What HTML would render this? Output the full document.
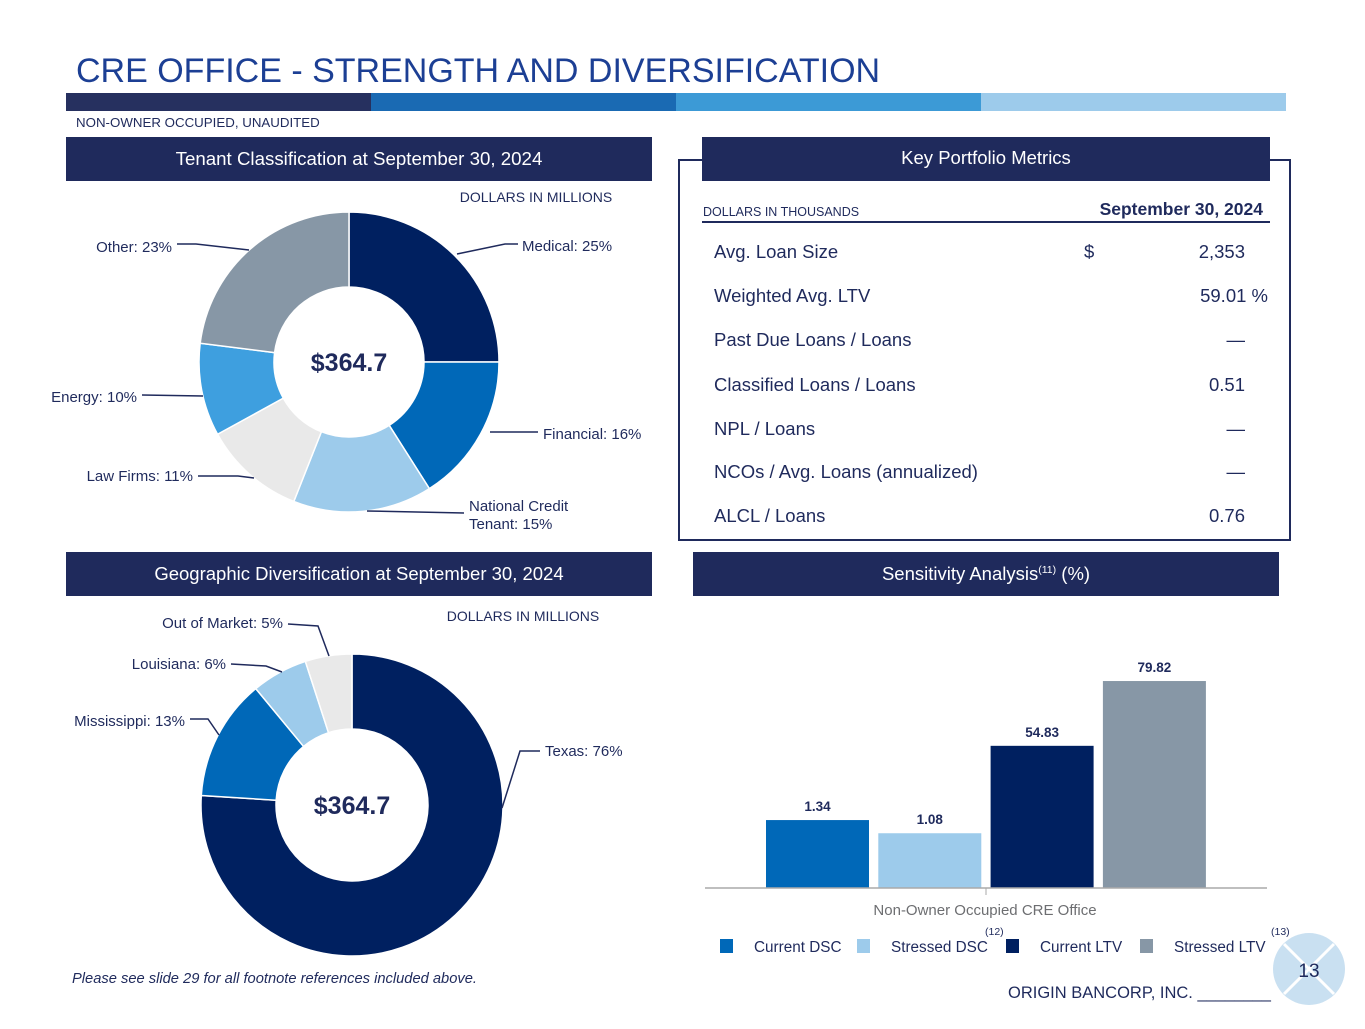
<!DOCTYPE html>
<html><head><meta charset="utf-8"><style>
body{margin:0;background:#fff;width:1365px;height:1024px;overflow:hidden;font-family:"Liberation Sans",Arial,sans-serif}
svg text{font-family:"Liberation Sans",Arial,sans-serif}
</style></head><body>
<svg id="s" width="1365" height="1024" viewBox="0 0 1365 1024" xmlns="http://www.w3.org/2000/svg">
<text x="76" y="82" font-size="34" fill="#1c3f94">CRE OFFICE - STRENGTH AND DIVERSIFICATION</text>
<g>
<rect x="66" y="93" width="305" height="18" fill="#26305f"/><rect x="371" y="93" width="305" height="18" fill="#1a6ab3"/><rect x="676" y="93" width="305" height="18" fill="#3c9ad6"/><rect x="981" y="93" width="305" height="18" fill="#9dcbeb"/></g>
<text x="76" y="127" font-size="13.3" fill="#1f2a5c">NON-OWNER OCCUPIED, UNAUDITED</text>

<rect x="66" y="137" width="586" height="44" fill="#1f2a5c"/>
<text x="359" y="165" font-size="18.7" fill="#fff" text-anchor="middle">Tenant Classification at September 30, 2024</text>
<text x="536" y="202" font-size="14" fill="#1f2a5c" text-anchor="middle">DOLLARS IN MILLIONS</text>

<rect x="679" y="160" width="611" height="380" fill="none" stroke="#1f2a5c" stroke-width="2"/>
<rect x="702" y="137" width="568" height="44" fill="#1f2a5c"/>
<text x="986" y="164" font-size="18.5" fill="#fff" text-anchor="middle">Key Portfolio Metrics</text>
<text x="703" y="216" font-size="12.5" fill="#1f2a5c">DOLLARS IN THOUSANDS</text>
<text x="1263" y="215" font-size="17.5" font-weight="bold" fill="#1f2a5c" text-anchor="end">September 30, 2024</text>
<line x1="702" y1="222" x2="1270" y2="222" stroke="#1f2a5c" stroke-width="2"/>
<g id="metrics" font-size="18.5" fill="#1f2a5c"></g>

<rect x="66" y="552" width="586" height="44" fill="#1f2a5c"/>
<text x="359" y="580" font-size="18.5" fill="#fff" text-anchor="middle">Geographic Diversification at September 30, 2024</text>
<text x="523" y="621" font-size="14" fill="#1f2a5c" text-anchor="middle">DOLLARS IN MILLIONS</text>

<rect x="693" y="552" width="586" height="44" fill="#1f2a5c"/>
<text x="986" y="580" font-size="18.5" fill="#fff" text-anchor="middle">Sensitivity Analysis<tspan font-size="10.5" dy="-7">(11)</tspan><tspan dy="7"> (%)</tspan></text>

<g id="donut1"></g>
<g id="donut2"></g>
<g id="bars"></g>

<text x="72" y="983" font-size="14.7" font-style="italic" fill="#1f2a5c">Please see slide 29 for all footnote references included above.</text>
<text x="1008" y="998" font-size="16.5" fill="#1f2a5c">ORIGIN BANCORP, INC. ________</text>
<g>
<circle cx="1309" cy="969" r="36" fill="#c9e0f1"/>
<line x1="1284" y1="944" x2="1334" y2="994" stroke="#fff" stroke-width="3"/><line x1="1334" y1="944" x2="1284" y2="994" stroke="#fff" stroke-width="3"/>
<text x="1309" y="977" font-size="19" fill="#1f2a5c" text-anchor="middle">13</text></g>
</svg>
<script>
const NS="http://www.w3.org/2000/svg";
function mk(p,t,a,txt){const e=document.createElementNS(NS,t);for(const k in a)e.setAttribute(k,a[k]);if(txt!==undefined)e.textContent=txt;p.appendChild(e);return e;}

// Metrics
const metricLabels=["Avg. Loan Size","Weighted Avg. LTV","Past Due Loans / Loans","Classified Loans / Loans","NPL / Loans","NCOs / Avg. Loans (annualized)","ALCL / Loans"];
const metricValues=["2,353","59.01 %","—","0.51","—","—","0.76"];
const mg=document.getElementById('metrics');
const rowY=[258,302,346,391,435,478,522];
metricLabels.forEach((l,i)=>{
  const t=mk(mg,'text',{x:714,y:rowY[i]},l);
  
  
  const v=mk(mg,'text',{x:metricValues[i].includes('%')?1268:1245,y:rowY[i],'text-anchor':'end'},metricValues[i]);
  
  
});
mk(mg,'text',{x:1084,y:258},'$');

// Donuts
const tenantCats=["Medical: 25%","Financial: 16%","National Credit Tenant: 15%","Law Firms: 11%","Energy: 10%","Other: 23%"];
const tenantVals=[25,16,15,11,10,23];
const tenantColors=["#002060","#0068b8","#9dcbeb","#e9e9e9","#3e9fdf","#8797a6"];
const geoCats=["Texas: 76%","Mississippi: 13%","Louisiana: 6%","Out of Market: 5%"];
const geoVals=[76,13,6,5];
const geoColors=["#002060","#0068b8","#9dcbeb","#e9e9e9"];
function pt(cx,cy,r,a){return [cx+r*Math.sin(a),cy-r*Math.cos(a)];}
function donut(g,cx,cy,R,r,vals,cols){
  const tot=vals.reduce((a,b)=>a+b,0);let a0=0;
  vals.forEach((v,i)=>{const a1=a0+v/tot*2*Math.PI;const lg=(a1-a0)>Math.PI?1:0;
    const p1=pt(cx,cy,R,a0),p2=pt(cx,cy,R,a1),p3=pt(cx,cy,r,a1),p4=pt(cx,cy,r,a0);
    const p=mk(g,'path',{d:`M${p1}A${R},${R} 0 ${lg} 1 ${p2}L${p3}A${r},${r} 0 ${lg} 0 ${p4}Z`,fill:cols[i],stroke:'#fff','stroke-width':1.5});
    
    
    a0=a1;});
  mk(g,'text',{x:cx,y:cy+9,'font-size':25,'font-weight':'bold',fill:'#1f2a5c','text-anchor':'middle'},'$364.7');
}
const d1=document.getElementById('donut1');donut(d1,349,362,150,75,tenantVals,tenantColors);
const d2=document.getElementById('donut2');donut(d2,352,805,151,76,geoVals,geoColors);
function lab(g,txt,x,y,anchor,line){
  mk(g,'polyline',{points:line,fill:'none',stroke:'#1f2a5c','stroke-width':1.5});
  const lines=txt.split('\n');
  lines.forEach((l,i)=>{const t=mk(g,'text',{x:x,y:y+i*18,'font-size':15,fill:'#1f2a5c','text-anchor':anchor},l);
    
    });
}
lab(d1,tenantCats[0],522,251,'start',"457,254 505,244 518,244");
lab(d1,tenantCats[1],543,439,'start',"490,432 538,432");
lab(d1,"National Credit\nTenant: 15%",469,511,'start',"367,511 464,513");
lab(d1,tenantCats[3],193,481,'end',"254,478 238,476 198,476");
lab(d1,tenantCats[4],137,402,'end',"203,396 142,395");
lab(d1,tenantCats[5],172,252,'end',"249,250 196,244 177,244");
lab(d2,geoCats[0],545,756,'start',"502,808 520,751 540,751");
lab(d2,geoCats[1],185,726,'end',"219,735 208,719 190,719");
lab(d2,geoCats[2],226,669,'end',"282,672 266,666 231,664");
lab(d2,geoCats[3],283,628,'end',"329,656 318,626 288,624");

// Bar chart (DSC and LTV on separate scales)
const barSeries=["Current DSC","Stressed DSC","Current LTV","Stressed LTV"];
const barValues=[1.34,1.08,54.83,79.82];
const barColors=["#0068b8","#9dcbeb","#002060","#8797a6"];
const barAxis=["dsc","dsc","ltv","ltv"];
const baseY=888;
function yScale(v,ax){return ax==='dsc'?v*50.7:v*2.593;}
const bg=document.getElementById('bars');
const bx0=766,bw=103,gap=9.3;
barValues.forEach((v,i)=>{const h=yScale(v,barAxis[i]);const x=bx0+i*(bw+gap);
  const r=mk(bg,'rect',{x:x,y:baseY-h,width:bw,height:h,fill:barColors[i]});
  
  
  const t=mk(bg,'text',{x:x+bw/2,y:baseY-h-9,'font-size':13.5,'font-weight':'bold',fill:'#1f2a5c','text-anchor':'middle'},v.toFixed(2));
  
  
});
mk(bg,'line',{x1:705,y1:888,x2:1267,y2:888,stroke:'#aaa','stroke-width':1.5});
mk(bg,'line',{x1:986,y1:888,x2:986,y2:895,stroke:'#aaa','stroke-width':1});
mk(bg,'text',{x:985,y:915,'font-size':15,fill:'#6d6e71','text-anchor':'middle'},'Non-Owner Occupied CRE Office');
const legX=[720,857,1006,1140];
const legSup=["","(12)","","(13)"];
barSeries.forEach((s,i)=>{
  const r=mk(bg,'rect',{x:legX[i],y:939,width:13,height:14,fill:barColors[i]});
  
  
  const t=mk(bg,'text',{x:legX[i]+34,y:952,'font-size':15.3,fill:'#1f2a5c'},s);
  
  
  if(legSup[i]){mk(bg,'text',{x:legX[i]+128+(i==3?3:0),y:935,'font-size':10.5,fill:'#1f2a5c'},legSup[i]);}
});
</script>
</body></html>
